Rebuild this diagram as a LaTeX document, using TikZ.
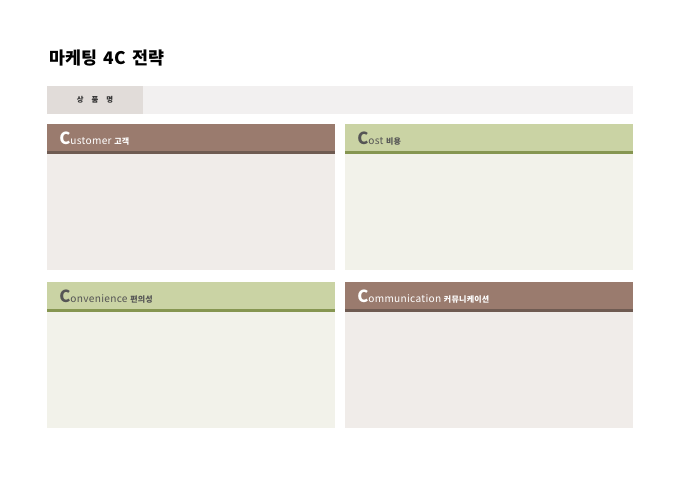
\documentclass[tikz,border=0pt]{standalone}
\usepackage{fontspec}
\setmainfont{Noto Sans CJK KR}
\newfontfamily\widefont[LetterSpace=3]{Noto Sans CJK KR}
\usetikzlibrary{positioning}

\definecolor{headbrown}{HTML}{9A7B6E}
\definecolor{linebrown}{HTML}{6F5B52}
\definecolor{bodybrown}{HTML}{F0ECE9}
\definecolor{headolive}{HTML}{CAD3A4}
\definecolor{lineolive}{HTML}{869651}
\definecolor{bodyolive}{HTML}{F2F2EA}
\definecolor{namebox}{HTML}{E1DCD9}
\definecolor{namebar}{HTML}{F2F0F0}
\definecolor{textgray}{HTML}{555555}

\begin{document}
\begin{tikzpicture}[x=0.75pt,y=-0.75pt,
  heading/.style={anchor=west,inner sep=0pt,font=\widefont\fontsize{7.6}{9}\selectfont}]
\useasboundingbox (0,0) rectangle (680,481);

% title
\node[anchor=west,inner sep=0pt,font=\fontsize{13}{15}\bfseries] (title) at (49,58)
  {마케팅\hspace{5pt}4C\hspace{5pt}전략};

% product name bar
\fill[namebar] (143,86) rectangle (633,114);
\fill[namebox] (47,86) rectangle (143,114);
\node[font=\fontsize{5.5}{6}\bfseries,text=black!80] (name) at (95,100)
  {상\hspace{6pt}품\hspace{6pt}명};

% customer
\fill[headbrown] (47,124) rectangle (335,151);
\fill[linebrown] (47,151) rectangle (335,154);
\fill[bodybrown] (47,154) rectangle (335,270);
\node[heading,text=white] (customer) at (59,139)
  {{\fontsize{12.5}{14}\bfseries C}ustomer\hspace{2pt}{\fontsize{6}{7}\bfseries 고객}};

% cost
\fill[headolive] (345,124) rectangle (633,151);
\fill[lineolive] (345,151) rectangle (633,154);
\fill[bodyolive] (345,154) rectangle (633,270);
\node[heading,text=textgray] (cost) at (357,139)
  {{\fontsize{12.5}{14}\bfseries C}ost\hspace{2pt}{\fontsize{6}{7}\bfseries 비용}};

% convenience
\fill[headolive] (47,282) rectangle (335,309);
\fill[lineolive] (47,309) rectangle (335,312);
\fill[bodyolive] (47,312) rectangle (335,428);
\node[heading,text=textgray] (convenience) at (59,297)
  {{\fontsize{12.5}{14}\bfseries C}onvenience\hspace{2pt}{\fontsize{6}{7}\bfseries 편의성}};

% communication
\fill[headbrown] (345,282) rectangle (633,309);
\fill[linebrown] (345,309) rectangle (633,312);
\fill[bodybrown] (345,312) rectangle (633,428);
\node[heading,text=white] (communication) at (357,297)
  {{\fontsize{12.5}{14}\bfseries C}ommunication\hspace{2pt}{\fontsize{6}{7}\bfseries 커뮤니케이션}};

\end{tikzpicture}
\end{document}
